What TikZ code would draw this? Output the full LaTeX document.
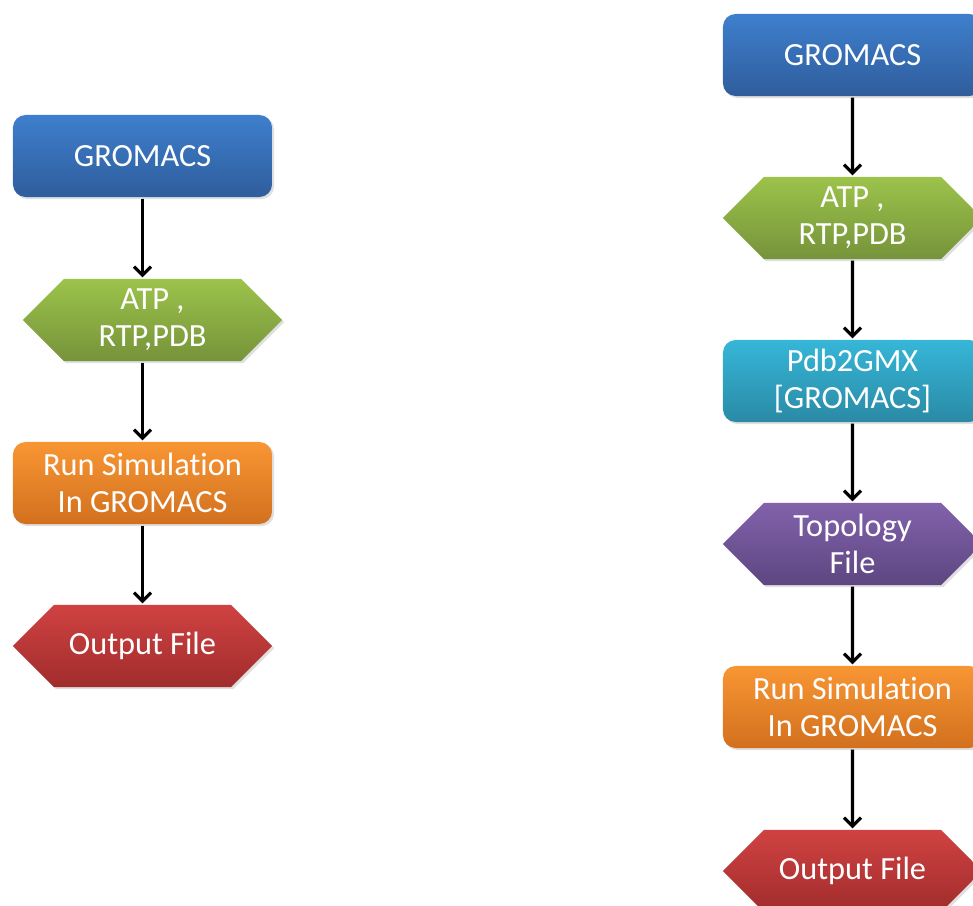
\documentclass[tikz,border=0pt]{standalone}
\usepackage{fontspec}
\setmainfont{Carlito}[Ligatures={NoCommon}]
\usetikzlibrary{shapes.symbols,arrows.meta,shadows}

\definecolor{blueTop}{HTML}{3E7FCD}
\definecolor{blueBot}{HTML}{2F5D9C}
\definecolor{greenTop}{HTML}{9CC34B}
\definecolor{greenBot}{HTML}{76933A}
\definecolor{orangeTop}{HTML}{F89634}
\definecolor{orangeBot}{HTML}{D2701E}
\definecolor{redTop}{HTML}{D04242}
\definecolor{redBot}{HTML}{A12C2C}
\definecolor{purpleTop}{HTML}{8262AB}
\definecolor{purpleBot}{HTML}{5D4681}
\definecolor{cyanTop}{HTML}{36B6D8}
\definecolor{cyanBot}{HTML}{2A8AA5}

\def\boxw{6.475cm}
\def\boxh{2.05cm}

\begin{document}
\begin{tikzpicture}[x=0.025cm,y=-0.025cm,line width=2.3pt,
    >={Straight Barb[length=6pt,width=12pt,line width=2.3pt]}]
    \tikzstyle{shape base}=[minimum width=\boxw, minimum height=\boxh, inner sep=0pt,
        text=white, align=center, font=\fontsize{23}{26.5}\selectfont,
        drop shadow={opacity=0.25,shadow xshift=1.5pt,shadow yshift=-1.5pt}]
    \tikzstyle{block}=[shape base, rectangle, rounded corners=9pt]
    \tikzstyle{data}=[shape base, signal, signal to=west and east, signal pointer angle=90]
    \tikzstyle{blue fill}=[top color=blueTop, bottom color=blueBot]
    \tikzstyle{green fill}=[top color=greenTop, bottom color=greenBot]
    \tikzstyle{orange fill}=[top color=orangeTop, bottom color=orangeBot]
    \tikzstyle{red fill}=[top color=redTop, bottom color=redBot]
    \tikzstyle{purple fill}=[top color=purpleTop, bottom color=purpleBot]
    \tikzstyle{cyan fill}=[top color=cyanTop, bottom color=cyanBot]

    \clip (0,0) rectangle (973,906);

    % Left flow
    \node[block, blue fill] (L-gro) at (142.5,156) {GROMACS};
    \node[data, green fill] (L-atp) at (152.5,320) {ATP ,\\RTP,PDB};
    \node[block, orange fill] (L-run) at (142.5,483) {Run Simulation\\In GROMACS};
    \node[data, red fill] (L-out) at (142.5,646) {Output File};

    % Right flow
    \node[block, blue fill] (R-gro) at (852.5,55) {GROMACS};
    \node[data, green fill] (R-atp) at (852.5,218) {ATP ,\\RTP,PDB};
    \node[block, cyan fill] (R-pdb) at (852.5,381) {Pdb2GMX\\{[GROMACS]}};
    \node[data, purple fill] (R-top) at (852.5,544) {Topology\\File};
    \node[block, orange fill] (R-run) at (852.5,707) {Run Simulation\\In GROMACS};
    \node[data, red fill] (R-out) at (852.5,871) {Output File};

    % Connect the steps
    \foreach \a/\b in {L-gro/L-atp, L-atp/L-run, L-run/L-out}
        \draw[->] (\a.south -| L-gro) -- (\b.north -| L-gro);

    \foreach \a/\b in {R-gro/R-atp, R-atp/R-pdb, R-pdb/R-top, R-top/R-run, R-run/R-out}
        \draw[->] (\a) -- (\b);
\end{tikzpicture}
\end{document}
